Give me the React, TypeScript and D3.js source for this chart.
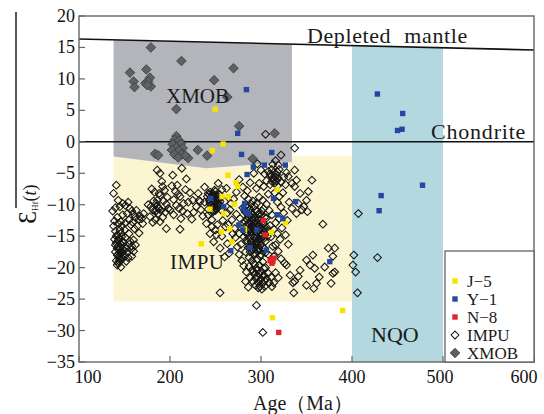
import React from "react";
import * as d3 from "d3";

const X_TICKS = [100, 200, 300, 400, 500, 600];
const Y_TICKS = [20, 15, 10, 5, 0, -5, -10, -15, -20, -25, -30, -35];

const depletedMantle: [number, number][] = [[100, 16.35], [600, 14.6]];
const chondrite: [number, number][] = [[100, 0], [600, 0]];

const regionIMPU: [number, number][] = [[138, -2.3], [433, -2.3], [433, -25.4], [138, -25.4]];
const regionXMOB: [number, number][] = [[138, 16.2], [334, 15.5], [334, -3.2], [240, -4.2], [138, -2.35]];
const regionNQO: [number, number][] = [[400, 15.3], [500, 15.0], [500, -35], [400, -35]];

const impu: [number, number][] = [
  // left cluster
  [140,-14.2],[142,-14.8],[144,-15.3],[146,-14.5],[148,-15.8],[141,-16.1],[143,-16.6],[145,-17.0],[147,-16.4],[149,-17.3],
  [140,-17.5],[142,-18.0],[144,-18.4],[146,-17.8],[148,-18.6],[150,-18.1],[141,-18.9],[143,-19.3],[145,-18.7],[139,-15.5],
  [152,-16.9],[151,-15.2],[153,-17.6],[155,-16.3],[157,-17.1],[154,-18.4],[156,-15.8],[158,-16.6],[160,-17.4],[150,-14.0],
  [147,-13.4],[143,-13.0],[138,-13.4],[139,-12.6],[146,-19.9],[152,-19.0],[158,-18.2],[160,-15.6],[162,-16.4],[155,-14.6],
  [141,-15.0],[143,-15.7],[145,-16.2],[147,-17.6],[144,-17.2],[142,-16.9],[146,-18.3],[148,-17.0],[140,-16.4],[143,-17.9],
  [145,-14.0],[147,-15.1],[149,-16.0],[144,-19.0],[142,-19.6],
  [141,-6.9],[138,-8.2],[145,-10.3],[140,-10.5],[137,-11.0],[143,-9.3],[148,-9.8],[151,-10.1],[154,-9.6],[156,-10.6],
  [153,-11.4],[158,-11.0],[160,-11.5],[155,-12.4],[159,-12.8],[162,-12.0],[164,-13.4],[166,-12.3],[169,-12.2],[170,-13.0],
  [166,-14.5],[161,-13.8],[157,-13.2],[148,-11.6],[142,-12.0],[146,-12.7],[151,-12.9],[163,-10.9],[167,-11.8],[171,-11.4],
  // 175-200
  [176,-10.0],[179,-10.3],[182,-9.4],[185,-9.8],[181,-10.8],[184,-11.1],[187,-10.5],[190,-10.9],[186,-9.3],[189,-8.5],
  [188,-8.2],[192,-7.1],[191,-6.3],[189,-5.0],[186,-4.5],[194,-7.7],[193,-9.4],[196,-9.9],[195,-11.2],[184,-12.4],
  [189,-12.7],[192,-12.0],[196,-13.8],[181,-12.8],[178,-11.9],[198,-10.6],[183,-8.0],[180,-7.5],
  [186,-10.2],[188,-10.6],[185,-10.9],[187,-11.4],
  // 200-235
  [203,-5.3],[213,-4.2],[208,-6.9],[206,-7.9],[211,-8.7],[204,-9.2],[215,-9.8],[210,-10.6],[222,-8.1],[225,-9.3],
  [229,-10.3],[219,-11.4],[212,-12.2],[211,-13.9],[204,-11.6],[200,-10.8],[197,-8.8],[231,-8.2],[217,-7.6],[220,-9.6],
  [207,-10.1],[214,-11.0],[226,-11.2],[233,-9.5],[202,-7.0],[218,-5.9],[224,-12.3],[209,-8.3],
  // 235-265
  [244,-8.0],[246,-8.6],[248,-9.0],[250,-9.3],[252,-8.8],[247,-9.7],[249,-10.2],[251,-10.6],[253,-9.9],[245,-10.1],
  [243,-9.3],[255,-9.5],[254,-8.3],[250,-7.9],[248,-10.9],[246,-11.3],[242,-10.7],[256,-10.8],[257,-7.6],[241,-8.7],
  [245,-8.9],[247,-8.2],[249,-8.6],[251,-9.8],[253,-10.4],[244,-9.7],[246,-10.5],[248,-9.5],[250,-10.9],[252,-9.2],
  [254,-10.1],[243,-8.4],[247,-11.0],[249,-7.7],[251,-8.4],
  [253,-6.6],[242,-8.2],[232,-9.3],[234,-10.8],[242,-11.6],[246,-12.4],[250,-14.0],[251,-14.8],[248,-15.9],[246,-13.5],
  [257,-15.0],[255,-16.9],[265,-17.7],[260,-18.3],[255,-24.0],[238,-7.2],[236,-11.8],[240,-13.0],[258,-12.5],[261,-13.5],
  [263,-11.3],[260,-9.5],[262,-7.4],[238,-9.6],[252,-13.2],[244,-14.6],[263,-16.2],
  // main core 280-305
  [280,-10.5],[283,-11.2],[286,-12.0],[289,-12.6],[292,-13.0],[295,-13.5],[298,-14.1],[301,-14.6],[284,-13.4],[287,-14.0],
  [290,-14.8],[293,-15.2],[296,-15.9],[299,-16.4],[302,-16.8],[281,-15.1],[285,-16.0],[288,-16.7],[291,-17.2],[294,-17.8],
  [297,-17.0],[300,-15.5],[303,-13.0],[306,-12.1],[305,-15.8],[308,-14.2],[310,-13.3],[282,-12.6],[279,-13.8],[277,-12.2],
  [276,-14.6],[278,-16.3],[283,-17.5],[287,-18.4],[290,-18.9],[293,-19.5],[296,-18.7],[299,-18.2],[302,-19.1],[305,-17.6],
  [288,-10.8],[291,-11.5],[294,-10.9],[297,-12.2],[300,-11.7],[303,-10.6],[295,-9.8],[291,-9.4],[286,-9.1],[282,-8.6],
  [298,-8.8],[302,-9.3],[306,-9.9],[309,-10.9],[312,-11.6],[311,-15.1],[314,-13.9],[313,-16.6],[308,-17.9],[285,-14.7],
  [292,-16.2],[298,-13.2],[289,-13.5],[295,-14.4],[301,-12.8],[284,-10.0],[290,-12.0],[296,-11.0],[304,-14.0],[299,-15.0],
  [286,-13.0],[288,-13.9],[290,-13.3],[292,-14.1],[294,-14.7],[296,-13.0],[298,-15.4],[300,-13.8],[302,-14.0],[287,-15.3],
  [289,-15.9],[291,-16.5],[293,-16.9],[295,-16.3],[297,-15.6],[285,-12.4],[287,-11.7],[289,-11.3],[291,-12.4],[293,-12.0],
  [295,-12.6],[297,-11.5],[299,-12.5],[283,-14.3],[281,-13.0],[284,-15.6],[286,-16.8],[288,-17.5],[290,-16.1],[292,-17.8],
  [294,-16.0],[296,-17.4],[298,-16.9],[300,-17.9],[289,-14.3],[291,-13.7],[293,-13.6],[295,-15.2],[297,-14.0],[299,-13.7],
  [282,-10.9],[285,-10.4],[293,-10.2],[289,-9.9],[301,-11.0],[304,-12.0],[306,-13.6],[307,-15.0],[303,-15.4],[304,-17.0],
  // lower sub-cluster
  [287,-19.8],[290,-20.4],[293,-21.0],[296,-21.5],[299,-22.0],[302,-22.5],[288,-21.6],[291,-22.2],[294,-22.8],[297,-23.2],
  [300,-20.6],[303,-21.2],[306,-21.8],[309,-22.4],[305,-20.0],[308,-20.9],[311,-21.5],[298,-19.6],[295,-20.1],[284,-20.7],
  [286,-23.1],[312,-23.0],[301,-23.4],[304,-23.0],[292,-19.3],[316,-20.8],[319,-21.6],[314,-22.4],[283,-22.2],
  [292,-20.6],[294,-21.7],[296,-20.4],[298,-21.0],[300,-21.8],[302,-21.4],[304,-22.1],[297,-22.4],[299,-23.0],[303,-20.1],
  // upper part
  [300,-4.5],[304,-5.1],[308,-4.7],[311,-5.4],[314,-6.0],[317,-5.2],[320,-4.4],[306,-6.2],[310,-6.8],[313,-3.6],
  [316,-3.0],[322,-2.1],[318,-7.0],[322,-6.4],[325,-5.6],[328,-4.9],[327,-6.8],[330,-5.5],[298,-6.6],[292,-5.0],
  [303,-7.1],[295,-7.4],[288,-6.5],[285,-7.8],[280,-7.2],[276,-6.0],[273,-8.0],[270,-9.1],[296,-3.5],[324,-8.1],
  [320,-8.7],[315,-8.1],[308,-8.3],[305,1.2],[337,-1.0],[319,-3.7],
  [312,-4.4],[314,-4.9],[316,-5.6],[318,-4.8],[313,-5.7],[315,-6.6],[317,-6.2],[319,-5.8],[310,-5.1],[312,-6.3],
  // right of core
  [318,-9.6],[322,-10.4],[325,-11.3],[320,-12.2],[316,-12.9],[323,-13.7],[318,-14.6],[321,-15.5],[316,-16.4],[319,-17.4],
  [314,-18.2],[322,-18.6],[326,-19.3],[328,-19.6],[332,-21.2],[337,-22.2],[336,-24.0],[330,-16.3],[327,-14.8],[329,-12.5],
  [331,-9.6],[334,-10.6],
  // left of core
  [266,-10.8],[268,-12.4],[271,-13.8],[272,-15.2],[274,-16.7],[276,-17.9],[279,-18.9],[281,-19.7],[269,-14.6],[267,-9.8],
  [273,-11.5],[264,-13.2],
  // 335-435
  [337,-4.5],[339,-6.1],[337,-7.1],[356,-6.1],[352,-7.9],[341,-9.8],[347,-10.3],[351,-11.1],[339,-11.4],[345,-10.8],
  [343,-8.2],[350,-9.3],[334,-6.6],[368,-13.1],[374,-16.9],[379,-18.2],[381,-16.9],[357,-18.0],[350,-18.8],[354,-19.6],
  [359,-20.1],[370,-19.9],[381,-20.7],[379,-20.9],[361,-22.5],[350,-22.8],[377,-22.5],[358,-23.3],[343,-20.4],[341,-21.4],
  [335,-22.4],[407,-11.4],[402,-18.0],[401,-19.6],[404,-20.7],[406,-24.0],[428,-18.4],[364,-21.5],
  // outliers
  [295,-26.0],[302,-30.3],
];

const xmob: [number, number][] = [
  [179,15.0],[212.6,12.85],[269.8,11.7],[156,11.0],[174,11.5],[160,9.6],[161,8.7],[178,10.2],[173,9.3],[176,9.6],
  [179,8.8],[175,9.0],[248.5,9.8],[263,7.1],[207,5.2],[276,2.5],[315,1.35],[207,0.9],[205,0.3],[210,0.2],
  [203,-0.4],[212,-0.3],[207,-0.9],[214,-1.0],[202,-1.3],[210,-1.4],[213,-2.0],[205,-2.0],[220,-2.6],[217,-2.2],
  [183.6,-1.9],[187,-2.15],[230.5,-1.3],[240.8,-2.2],[290.8,-2.7],[209,-2.5],
];

const j5: [number, number][] = [
  [249.6,5.2],[258.4,-0.35],[246.6,-1.4],[263.7,-5.3],[272.5,-6.5],[274.4,-7.1],[317.6,-7.6],[257.2,-8.7],[264,-8.7],
  [243.9,-10.7],[259,-11.4],[270.6,-9.9],[282,-13.9],[265.6,-13.8],[256.5,-14.3],[268,-15.9],[234.4,-16.2],
  [311.5,-14.4],[327,-12.9],[312.6,-27.96],[389.7,-26.8],
];

const y1: [number, number][] = [
  [284,8.3],[274.4,1.35],[278.6,-2.0],[311.8,-1.7],[291.6,-4.0],[303.8,-3.7],[326.7,-3.7],[284.7,-5.2],
  [244.7,-9.0],[259,-10.3],[282,-9.8],[284,-11.1],[286,-11.4],[280.5,-10.6],[313.7,-9.0],[338,-9.5],[318,-11.6],
  [324,-12.2],[275.6,-13.2],[280,-14.0],[295.4,-14.0],[287.8,-16.8],[266.8,-17.3],[306,-17.2],[375.6,-19.05],
  [427.9,7.6],[455.7,4.5],[450,1.8],[455,2.0],[477.5,-6.9],[432,-8.55],[429.8,-10.95],
];

const n8: [number, number][] = [
  [302.5,-12.5],[304.5,-14.8],[311.5,-18.6],[313,-19.0],[314,-18.5],[312,-19.3],[310,-18.9],[319.5,-30.3],
];

const legendItems = [
  { label: "J\u22125", kind: "j5" },
  { label: "Y\u22121", kind: "y1" },
  { label: "N\u22128", kind: "n8" },
  { label: "IMPU", kind: "impu" },
  { label: "XMOB", kind: "xmob" },
];

const COLORS: Record<string, string> = { j5: "#f6e400", y1: "#24479f", n8: "#e2232a" };

const x = d3.scaleLinear().domain([100, 600]).range([79, 534]);
const y = d3.scaleLinear().domain([20, -35]).range([16, 362]);

const fmt = (d: number) => (d < 0 ? "\u2212" + Math.abs(d) : String(d));
const diamond = (r: number) => `M0,${-r}L${r},0L0,${r}L${-r},0Z`;
const poly = (pts: [number, number][]) =>
  "M" + pts.map((p) => `${x(p[0])},${y(p[1])}`).join("L") + "Z";
const line = d3.line<[number, number]>().x((d) => x(d[0])).y((d) => y(d[1]));

const SERIF = "'Liberation Serif', 'Times New Roman', serif";

function Marker({ kind, cx, cy }: { kind: string; cx: number; cy: number }) {
  if (kind === "impu")
    return <path d={diamond(3.9)} transform={`translate(${cx},${cy})`} fill="none" stroke="#151515" strokeWidth={1.05} />;
  if (kind === "xmob")
    return <path d={diamond(4.8)} transform={`translate(${cx},${cy})`} fill="#5f6062" stroke="#3a3a3a" strokeWidth={0.8} />;
  return <rect x={cx - 2.7} y={cy - 2.7} width={5.4} height={5.4} fill={COLORS[kind]} />;
}

export default function App() {
  const [x0, x1] = x.range();
  const [y0, y1r] = y.range();
  return (
    <svg width={544} height={414} style={{ position: "absolute", left: 0, top: 0, background: "#fff" }} fontFamily={SERIF}>
      <rect width={544} height={414} fill="#fff" />
      <path d={poly(regionIMPU)} fill="#fbf5d2" />
      <path d={poly(regionXMOB)} fill="#b4b5ba" />
      <path d={poly(regionNQO)} fill="#b3d8e0" />
      <path d={line(depletedMantle) || ""} stroke="#111" strokeWidth={1.6} fill="none" />
      <path d={line(chondrite) || ""} stroke="#111" strokeWidth={1.6} fill="none" />
      <rect x={x0} y={y0} width={x1 - x0} height={y1r - y0} fill="none" stroke="#666" strokeWidth={1.4} />
      {Y_TICKS.map((t) => (
        <g key={"y" + t}>
          <line x1={x0} x2={x0 + 6} y1={y(t)} y2={y(t)} stroke="#666" strokeWidth={1.2} />
          <text x={75} y={y(t) + 6} textAnchor="end" fontSize={18} fill="#111">{fmt(t)}</text>
        </g>
      ))}
      {X_TICKS.map((t) => (
        <g key={"x" + t}>
          <line x1={x(t)} x2={x(t)} y1={y1r} y2={y1r - 6} stroke="#666" strokeWidth={1.2} />
          <text x={x(t) + (t === 100 ? 9 : t === 600 ? -10 : t === 500 ? -3 : 0)} y={383} textAnchor="middle" fontSize={18} fill="#111">{t}</text>
        </g>
      ))}
      {impu.map((p, i) => <Marker key={"i" + i} kind="impu" cx={x(p[0])} cy={y(p[1])} />)}
      {xmob.map((p, i) => <Marker key={"x" + i} kind="xmob" cx={x(p[0])} cy={y(p[1])} />)}
      {j5.map((p, i) => <Marker key={"j" + i} kind="j5" cx={x(p[0])} cy={y(p[1])} />)}
      {y1.map((p, i) => <Marker key={"b" + i} kind="y1" cx={x(p[0])} cy={y(p[1])} />)}
      {n8.map((p, i) => <Marker key={"n" + i} kind="n8" cx={x(p[0])} cy={y(p[1])} />)}
      <text x={307} y={43} fontSize={22} fill="#1a1a1a" letterSpacing={0.6} wordSpacing={7}>Depleted mantle</text>
      <text x={431} y={139} fontSize={22} fill="#1a1a1a" letterSpacing={0.8}>Chondrite</text>
      <text x={166} y={103} fontSize={21} fill="#1a1a1a">XMOB</text>
      <text x={170} y={269} fontSize={21} fill="#1a1a1a" letterSpacing={0.5}>IMPU</text>
      <text x={371} y={342} fontSize={22} fill="#1a1a1a">NQO</text>
      <line x1={16} x2={16} y1={12} y2={208} stroke="#111" strokeWidth={1.4} />
      <text transform="translate(36,224) rotate(-90)" fill="#1a1a1a">
        <tspan fontSize={26}>{"\u0190"}</tspan>
        <tspan fontSize={9} dy={2}>Hf</tspan>
        <tspan fontSize={18} dy={-2}>(</tspan>
        <tspan fontSize={18} fontStyle="italic">t</tspan>
        <tspan fontSize={18}>)</tspan>
      </text>
      <text x={303} y={410} textAnchor="middle" fontSize={20} fill="#1a1a1a">Age（Ma）</text>
      <rect x={445} y={251} width={89} height={111} fill="#fff" stroke="#555" strokeWidth={1.2} />
      {legendItems.map((it, i) => (
        <g key={it.label}>
          <Marker kind={it.kind} cx={455} cy={281 + i * 18} />
          <text x={467} y={287 + i * 18} fontSize={17} fill="#1a1a1a">{it.label}</text>
        </g>
      ))}
    </svg>
  );
}
